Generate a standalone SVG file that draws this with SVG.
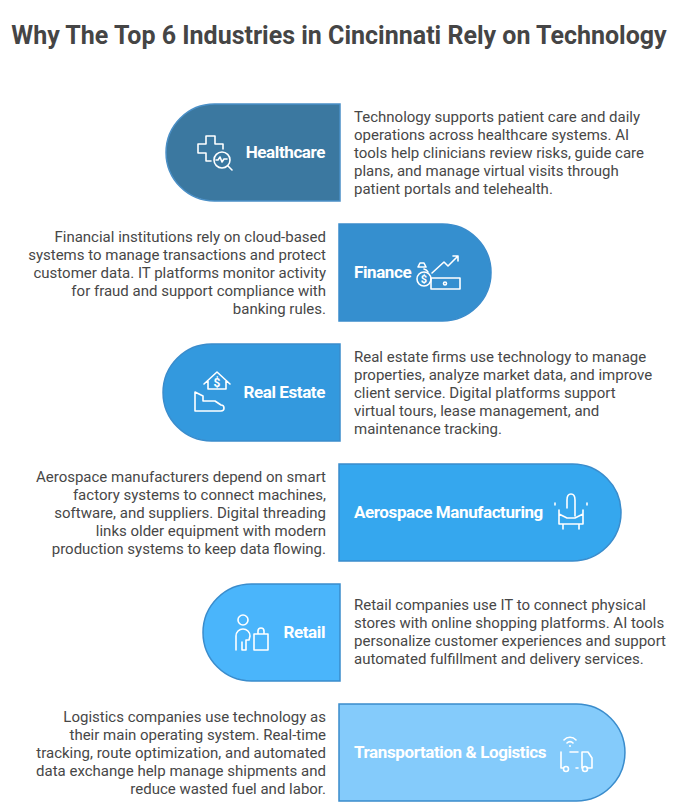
<svg xmlns="http://www.w3.org/2000/svg" width="679" height="806" viewBox="0 0 679 806">
<style>
.t{font-family:Roboto,"Liberation Sans",sans-serif;font-size:15px;fill:#474747}
.r{text-anchor:end}
.lb{font-family:Roboto,"Liberation Sans",sans-serif;font-size:17px;font-weight:bold;fill:#fff;letter-spacing:-0.4px}
.ic{fill:none;stroke:#fff;stroke-width:1.6;stroke-linecap:round;stroke-linejoin:round}
.sh{stroke-width:1.5}
</style>
<rect width="679" height="806" fill="#fff"/>
<text x="339" y="44" text-anchor="middle" font-family="Roboto,'Liberation Sans',sans-serif" font-size="25" font-weight="bold" fill="#454545">Why The Top 6 Industries in Cincinnati Rely on Technology</text>

<g id="healthcare">
<path class="sh" d="M340,104 V201 H214.5 A48.5,48.5 0 0 1 214.5,104 Z" fill="#3b78a0" stroke="#4a8fc6"/>
<path class="ic" d="M198,144 h8 v-8 h9 v8 h8 v5 M198,144 v9 h8 v8 h5"/>
<circle class="ic" cx="222" cy="160" r="8"/>
<path class="ic" d="M216,160 h2 l2,-3 l2,5 l2,-3 h3 M228,166 l4,4"/>
<text class="lb" x="325" y="158" text-anchor="end">Healthcare</text>
<text class="t" x="354" y="122">Technology supports patient care and daily</text>
<text class="t" x="354" y="140">operations across healthcare systems. AI</text>
<text class="t" x="354" y="158">tools help clinicians review risks, guide care</text>
<text class="t" x="354" y="176">plans, and manage virtual visits through</text>
<text class="t" x="354" y="194">patient portals and telehealth.</text>
</g>

<g id="finance">
<path class="sh" d="M339,224 H442.5 A48.5,48.5 0 0 1 442.5,321 H339 Z" fill="#358fcf" stroke="#3a8ccc"/>
<text class="lb" x="354" y="278">Finance</text>
<path class="ic" d="M428,272 a6,5 0 0 0 -4,-3 M426,267 h-8 l2,-4 h4 z"/>
<circle class="ic" cx="424" cy="279" r="7"/>
<path class="ic" d="M432,273 l12,-11 l4,4 l10,-10 M453,256 h5 v5 M431,278 h29 v11 h-29 z"/>
<circle class="ic" cx="445" cy="283.5" r="1.5"/>
<text x="424" y="283" text-anchor="middle" font-family="Roboto,sans-serif" font-size="11" font-weight="bold" fill="#fff">$</text>
<text class="t r" x="326" y="242">Financial institutions rely on cloud-based</text>
<text class="t r" x="326" y="260">systems to manage transactions and protect</text>
<text class="t r" x="326" y="278">customer data. IT platforms monitor activity</text>
<text class="t r" x="326" y="296">for fraud and support compliance with</text>
<text class="t r" x="326" y="314">banking rules.</text>
</g>

<g id="realestate">
<path class="sh" d="M340,344 V441 H211.5 A48.5,48.5 0 0 1 211.5,344 Z" fill="#3399de" stroke="#3a8ccc"/>
<path class="ic" d="M204,384 l13,-12 l13,12 M208,381 v8 h18 v-8 M195,392 v19 h26 a3,3 0 0 0 0,-6 l-6,-4 h-12 v-5 z"/>
<text x="217" y="387" text-anchor="middle" font-family="Roboto,sans-serif" font-size="12" font-weight="bold" fill="#fff">$</text>
<text class="lb" x="325" y="398" text-anchor="end">Real Estate</text>
<text class="t" x="354" y="362">Real estate firms use technology to manage</text>
<text class="t" x="354" y="380">properties, analyze market data, and improve</text>
<text class="t" x="354" y="398">client service. Digital platforms support</text>
<text class="t" x="354" y="416">virtual tours, lease management, and</text>
<text class="t" x="354" y="434">maintenance tracking.</text>
</g>

<g id="aerospace">
<path class="sh" d="M339,464 H572.5 A48.5,48.5 0 0 1 572.5,561 H339 Z" fill="#35a7ee" stroke="#3a8ccc"/>
<text class="lb" x="354" y="518">Aerospace Manufacturing</text>
<path class="ic" d="M567,508 v-8 c0,-8 8,-8 8,0 v16 M559,510 v14 h24 v-14 M559,514 l8,4 M583,514 l-8,4 M567,518 h8 M555,503 v2 M587,503 v2 M563,524 v5 M579,524 v5"/>
<text class="t r" x="326" y="482">Aerospace manufacturers depend on smart</text>
<text class="t r" x="326" y="500">factory systems to connect machines,</text>
<text class="t r" x="326" y="518">software, and suppliers. Digital threading</text>
<text class="t r" x="326" y="536">links older equipment with modern</text>
<text class="t r" x="326" y="554">production systems to keep data flowing.</text>
</g>

<g id="retail">
<path class="sh" d="M340,584 V681 H251.5 A48.5,48.5 0 0 1 251.5,584 Z" fill="#4ab5fb" stroke="#3a8ccc"/>
<circle class="ic" cx="243" cy="620" r="5"/>
<path class="ic" d="M236,650 v-14 a7,7 0 0 1 14,0 l-1,4 h-3 v10 h-4 v-8 M254,634 h14 v16 h-14 z M258,634 v-3 a3,3 0 0 1 6,0 v3"/>
<text class="lb" x="325" y="638" text-anchor="end">Retail</text>
<text class="t" x="354" y="610">Retail companies use IT to connect physical</text>
<text class="t" x="354" y="628">stores with online shopping platforms. AI tools</text>
<text class="t" x="354" y="646">personalize customer experiences and support</text>
<text class="t" x="354" y="664">automated fulfillment and delivery services.</text>
</g>

<g id="transportation">
<path class="sh" d="M339,704 H576.5 A48.5,48.5 0 0 1 576.5,801 H339 Z" fill="#84cbfb" stroke="#3a8ccc"/>
<text class="lb" x="354" y="758">Transportation &amp; Logistics</text>
<path class="ic" d="M564,740 a8,8 0 0 1 12,0 M567,743 a4,4 0 0 1 6,0 M561,752 v16 h2 M576,768 h2 M587,768 h5 v-10 l-4,-6 h-6 v16 M578,752 h-8 M582,768 v-16"/>
<circle class="ic" cx="566" cy="769" r="2.5"/>
<circle class="ic" cx="585" cy="769" r="2.5"/>
<circle cx="570" cy="746" r="1" fill="#fff"/>
<text class="t r" x="326" y="722">Logistics companies use technology as</text>
<text class="t r" x="326" y="740">their main operating system. Real-time</text>
<text class="t r" x="326" y="758">tracking, route optimization, and automated</text>
<text class="t r" x="326" y="776">data exchange help manage shipments and</text>
<text class="t r" x="326" y="794">reduce wasted fuel and labor.</text>
</g>
</svg>
